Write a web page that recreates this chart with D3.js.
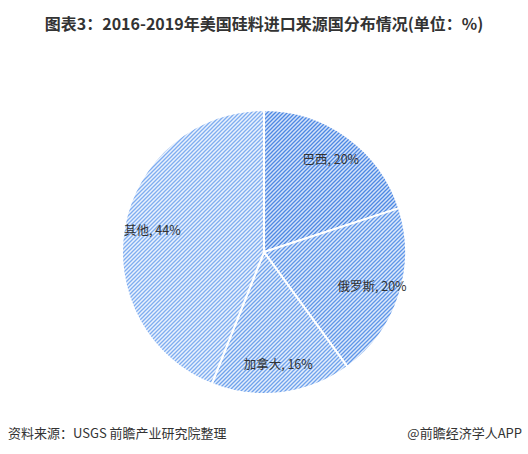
<!DOCTYPE html>
<html>
<head>
<meta charset="utf-8">
<script src="https://cdn.jsdelivr.net/npm/d3@7/dist/d3.min.js"></script>
<style>
  html, body { margin: 0; padding: 0; background: #fff; }
  svg { display: block; font-family: "Microsoft YaHei", "Noto Sans CJK SC", sans-serif; }
</style>
</head>
<body>
<svg id="chart" width="528" height="454"></svg>
<script>
const categories = ["巴西", "俄罗斯", "加拿大", "其他"];
const values = [20, 20, 16, 44];
const lineColors = ["#4d88e3", "#5f96e8", "#6fa2ec", "#7fadf0"];
const bgColors = ["#d3e2f9", "#dde9fb", "#e4eefc", "#eaf2fd"];
const titleText = "图表3：2016-2019年美国硅料进口来源国分布情况(单位：%)";
const sourceText = "资料来源：USGS 前瞻产业研究院整理";
const brandText = "@前瞻经济学人APP";

const W = 528, H = 454;
const cx = 264, cy = 252, R = 142;
const svg = d3.select("#chart");
const defs = svg.append("defs");

categories.forEach((c, i) => {
  const p = defs.append("pattern")
    .attr("id", "hatch" + i)
    .attr("patternUnits", "userSpaceOnUse")
    .attr("width", 4).attr("height", 4);
  p.append("rect").attr("width", 4).attr("height", 4).attr("fill", bgColors[i]);
  p.append("path")
    .attr("d", "M-1,1 l2,-2 M0,4 l4,-4 M3,5 l2,-2")
    .attr("stroke", lineColors[i])
    .attr("stroke-width", 1.3);
});

svg.append("text")
  .attr("x", W / 2).attr("y", 30)
  .attr("text-anchor", "middle")
  .attr("font-size", 16).attr("font-weight", "bold")
  .attr("fill", "#333")
  .text(titleText);

const pie = d3.pie().sort(null).value(d => d.v);
const data = categories.map((c, i) => ({ c, v: values[i], i }));
const arcs = pie(data);
const arc = d3.arc().innerRadius(0).outerRadius(R);
const labelArc = d3.arc().innerRadius(R * 0.8).outerRadius(R * 0.8);

const g = svg.append("g").attr("transform", `translate(${cx},${cy})`);
g.selectAll("path.slice").data(arcs).enter().append("path")
  .attr("class", "slice")
  .attr("d", arc)
  .attr("fill", d => `url(#hatch${d.data.i})`)
  .attr("stroke", "#fff")
  .attr("stroke-width", 2)
  .attr("stroke-linejoin", "round");

g.selectAll("text.lbl").data(arcs).enter().append("text")
  .attr("class", "lbl")
  .attr("transform", d => `translate(${labelArc.centroid(d)})`)
  .attr("text-anchor", "middle")
  .attr("dy", "0.35em")
  .attr("font-size", 12.5)
  .attr("fill", "#333")
  .text(d => `${d.data.c}, ${d.data.v}%`);

svg.append("text")
  .attr("x", 8).attr("y", 438)
  .attr("font-size", 13).attr("fill", "#333")
  .text(sourceText);
svg.append("text")
  .attr("x", 522).attr("y", 438)
  .attr("text-anchor", "end")
  .attr("font-size", 13).attr("fill", "#333")
  .text(brandText);
</script>
</body>
</html>
